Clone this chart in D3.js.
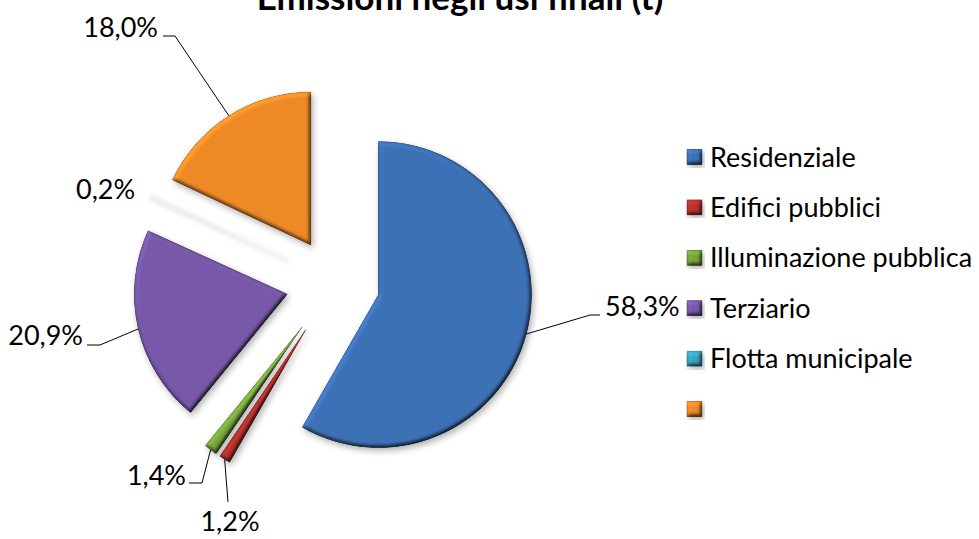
<!DOCTYPE html>
<html>
<head>
<meta charset="utf-8">
<script src="https://cdn.jsdelivr.net/npm/d3@7"></script>
<style>
  body { margin: 0; background: #fff; }
  svg { display: block; font-family: Lato, "Open Sans", sans-serif; }
</style>
</head>
<body>
<div id="chart"></div>
<script>
// Chart data
var categories = ["Residenziale", "Edifici pubblici", "Illuminazione pubblica", "Terziario", "Flotta municipale", ""];
var values = [58.3, 1.2, 1.4, 20.9, 0.2, 18.0];
var valueLabels = ["58,3%", "1,2%", "1,4%", "20,9%", "0,2%", "18,0%"];

// Styling
var colors = ["#3d71b7", "#b8322e", "#77a53b", "#7858a9", "#3aa5c2", "#ef8a26"];
var explode = [45, 55, 55, 49, 50, 45];
// label anchor [x, y, anchor] and leader line elbows
var labelAt = [[605, 316, "start"], [230, 531, "middle"], [186, 485, "end"], [83, 345, "end"], [76, 199, "start"], [158, 37, "end"]];
var leaders = [[[590, 315], [600, 315]], [[228, 502]], [[202, 483], [189, 483]], [[100, 345], [87, 345]], null, [[175, 36], [163, 36]]];

function drawChart() {
  var width = 979, height = 539;
  var cx = 335, cy = 283, radius = 153;

  var svg = d3.select("#chart").append("svg")
    .attr("width", width)
    .attr("height", height);

  // bevel + shadow filter
  var defs = svg.append("defs");
  var f = defs.append("filter").attr("id", "bevel")
    .attr("x", "-20%").attr("y", "-20%").attr("width", "140%").attr("height", "140%")
    .attr("color-interpolation-filters", "sRGB");
  f.append("feGaussianBlur").attr("in", "SourceAlpha").attr("stdDeviation", 2.2).attr("result", "blur");
  f.append("feDiffuseLighting").attr("in", "blur").attr("surfaceScale", 3).attr("diffuseConstant", 1)
    .attr("lighting-color", "#fff").attr("result", "diff")
    .append("feDistantLight").attr("azimuth", 235).attr("elevation", 60);
  f.append("feComposite").attr("in", "SourceGraphic").attr("in2", "diff").attr("operator", "arithmetic")
    .attr("k1", 1.15).attr("k2", 0).attr("k3", 0).attr("k4", 0).attr("result", "lit");
  f.append("feComposite").attr("in", "lit").attr("in2", "SourceAlpha").attr("operator", "in").attr("result", "litIn");
  f.append("feGaussianBlur").attr("in", "SourceAlpha").attr("stdDeviation", 3).attr("result", "sb");
  f.append("feOffset").attr("in", "sb").attr("dx", 2).attr("dy", 3).attr("result", "so");
  f.append("feComponentTransfer").attr("in", "so").attr("result", "sa")
    .append("feFuncA").attr("type", "linear").attr("slope", 0.3);
  var m = f.append("feMerge");
  m.append("feMergeNode").attr("in", "sa");
  m.append("feMergeNode").attr("in", "litIn");

  var soft = defs.append("filter").attr("id", "soft")
    .attr("x", "-20%").attr("y", "-20%").attr("width", "140%").attr("height", "140%");
  soft.append("feGaussianBlur").attr("stdDeviation", 2.5);

  // Title (cut off at the top like the original)
  svg.append("text")
    .attr("x", 460)
    .attr("y", 10)
    .attr("text-anchor", "middle")
    .style("font-size", "35px")
    .style("font-weight", "bold")
    .text("Emissioni negli usi finali (t)");

  var pie = d3.pie().sort(null).value(function (d) { return d; });
  var arcs = pie(values);
  var arc = d3.arc().innerRadius(0).outerRadius(radius);

  function offset(d, i) {
    var a = (d.startAngle + d.endAngle) / 2;
    return [cx + Math.sin(a) * explode[i], cy - Math.cos(a) * explode[i]];
  }

  var g = svg.append("g");
  g.selectAll("path.slice")
    .data(arcs)
    .enter()
    .append("path")
    .attr("class", "slice")
    .attr("transform", function (d, i) {
      var o = offset(d, i);
      return "translate(" + o[0] + "," + o[1] + ")";
    })
    .attr("d", arc)
    .style("fill", function (d, i) { return i === 4 ? "#c8c8c8" : colors[i]; })
    .style("opacity", function (d, i) { return i === 4 ? 0.6 : 1; })
    .style("stroke", function (d, i) { return i === 4 ? "#c8c8c8" : d3.color(colors[i]).darker(0.6); })
    .style("stroke-width", function (d, i) { return i === 4 ? 2 : 0.8; })
    .attr("filter", function (d, i) { return i === 4 ? "url(#soft)" : "url(#bevel)"; });

  // Leader lines
  arcs.forEach(function (d, i) {
    if (!leaders[i]) return;
    var o = offset(d, i);
    var a = (d.startAngle + d.endAngle) / 2;
    var pts = [[o[0] + Math.sin(a) * radius, o[1] - Math.cos(a) * radius]].concat(leaders[i]);
    svg.append("path")
      .attr("d", d3.line()(pts))
      .style("fill", "none")
      .style("stroke", "#000")
      .style("stroke-width", 1);
  });

  // Value labels
  svg.selectAll("text.val")
    .data(valueLabels)
    .enter()
    .append("text")
    .attr("class", "val")
    .attr("x", function (d, i) { return labelAt[i][0]; })
    .attr("y", function (d, i) { return labelAt[i][1]; })
    .attr("text-anchor", function (d, i) { return labelAt[i][2]; })
    .style("font-size", "27px")
    .style("fill", "#000")
    .text(function (d) { return d; });

  // Legend
  var legend = svg.append("g").attr("transform", "translate(687,157)");
  var item = legend.selectAll("g")
    .data(categories)
    .enter()
    .append("g")
    .attr("transform", function (d, i) { return "translate(0," + i * 50.4 + ")"; });
  item.append("rect")
    .attr("x", 0).attr("y", -7.5)
    .attr("width", 15).attr("height", 15)
    .style("fill", function (d, i) { return colors[i]; })
    .style("stroke", function (d, i) { return d3.color(colors[i]).darker(0.6); })
    .style("stroke-width", 0.8)
    .attr("filter", "url(#bevel)");
  item.append("text")
    .attr("x", 23)
    .attr("y", 9.5)
    .style("font-size", "27px")
    .text(function (d) { return d; });
}

drawChart();
</script>
</body>
</html>
